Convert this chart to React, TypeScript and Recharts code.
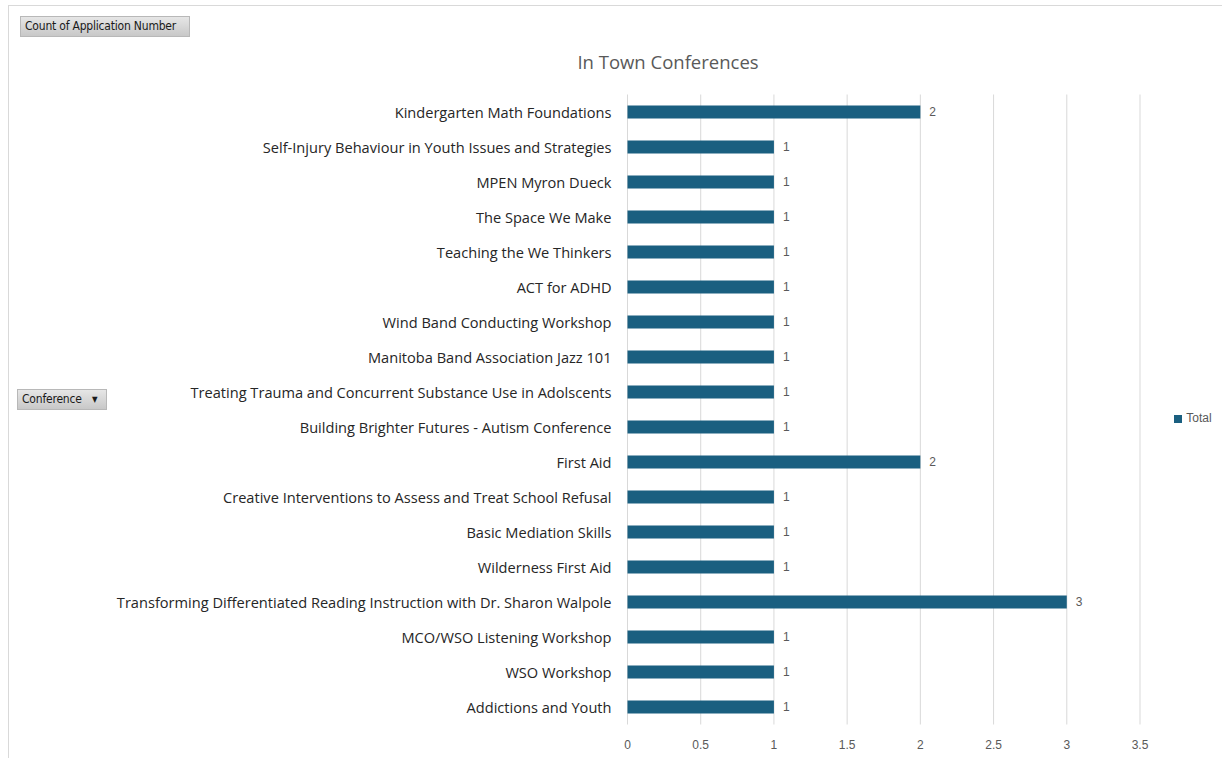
import React from "react";
import { BarChart, Bar, XAxis, YAxis, CartesianGrid, LabelList, Legend } from "recharts";

const conferences = [
  "Kindergarten Math Foundations",
  "Self-Injury Behaviour in Youth Issues and Strategies",
  "MPEN Myron Dueck",
  "The Space We Make",
  "Teaching the We Thinkers",
  "ACT for ADHD",
  "Wind Band Conducting Workshop",
  "Manitoba Band Association Jazz 101",
  "Treating Trauma and Concurrent Substance Use in Adolscents",
  "Building Brighter Futures - Autism Conference",
  "First Aid",
  "Creative Interventions to Assess and Treat School Refusal",
  "Basic Mediation Skills",
  "Wilderness First Aid",
  "Transforming Differentiated Reading Instruction with Dr. Sharon Walpole",
  "MCO/WSO Listening Workshop",
  "WSO Workshop",
  "Addictions and Youth",
];

const totals = [2, 1, 1, 1, 1, 1, 1, 1, 1, 1, 2, 1, 1, 1, 3, 1, 1, 1];

const xTicks = [0, 0.5, 1, 1.5, 2, 2.5, 3, 3.5];

const data = conferences.map((name, i) => ({ name, Total: totals[i] }));

const FONT = "'Liberation Sans', Arial, sans-serif";
const LABEL_FONT = "'Open Sans', 'Liberation Sans', sans-serif";

const buttonStyle: React.CSSProperties = {
  position: "absolute",
  background: "linear-gradient(#e6e6e6, #c8c8c8)",
  border: "1px solid #b8b8b8",
  fontFamily: "'DejaVu Sans Condensed', 'Liberation Sans Narrow', sans-serif",
  fontSize: 12,
  letterSpacing: -0.2,
  color: "#1a1a1a",
  boxSizing: "border-box",
  lineHeight: "19px",
  paddingLeft: 4,
  whiteSpace: "nowrap",
};

export default function App() {
  return (
    <div style={{ position: "absolute", left: 0, top: 0, width: 1223, height: 758, background: "#fff", overflow: "hidden" }}>
      <div
        style={{
          position: "absolute",
          left: 8,
          top: 5,
          width: 1214,
          height: 760,
          borderTop: "1px solid #d9d9d9",
          borderLeft: "1px solid #d9d9d9",
          boxSizing: "border-box",
        }}
      />
      <BarChart
        width={1223}
        height={758}
        data={data}
        layout="vertical"
        margin={{ top: 94.5, right: 83, bottom: 13.5, left: 0 }}
        barSize={13}
        style={{ position: "absolute", left: 0, top: 0 }}
      >
        <CartesianGrid horizontal={false} vertical stroke="#d9d9d9" strokeWidth={1} />
        <XAxis
          type="number"
          domain={[0, 3.5]}
          ticks={xTicks}
          axisLine={false}
          tickLine={false}
          tickSize={0}
          tickMargin={16}
          height={20}
          tick={{ fill: "#595959", fontSize: 12, fontFamily: FONT }}
          interval={0}
        />
        <YAxis
          type="category"
          dataKey="name"
          width={627.5}
          axisLine={false}
          tickLine={false}
          tickSize={0}
          tickMargin={16}
          interval={0}
          tick={{ fill: "#262626", fontSize: 14.6, fontFamily: LABEL_FONT, dy: 1 }}
        />
        <Legend
          layout="horizontal"
          verticalAlign="middle"
          align="center"
          iconType="square"
          iconSize={8}
          wrapperStyle={{ left: 1168, top: 411, width: 60, height: 18, fontFamily: FONT, fontSize: 12 }}
          formatter={(v: string) => <span style={{ color: "#595959", fontSize: 12 }}>{v}</span>}
        />
        <Bar dataKey="Total" fill="#1a5f80" isAnimationActive={false}>
          <LabelList dataKey="Total" position="right" offset={9} fill="#595959" fontSize={12} fontFamily={FONT} />
        </Bar>
      </BarChart>
      <div
        style={{
          position: "absolute",
          left: 0,
          width: 1336,
          top: 49,
          textAlign: "center",
          fontFamily: LABEL_FONT,
          fontSize: 18.5,
          color: "#595959",
          lineHeight: "26px",
        }}
      >
        In Town Conferences
      </div>
      <div style={{ ...buttonStyle, left: 20, top: 16, width: 170, height: 21 }}>Count of Application Number</div>
      <div style={{ ...buttonStyle, left: 17, top: 389, width: 90, height: 21 }}>
        Conference
        <span style={{ position: "absolute", left: 74, top: 0, fontSize: 8 }}>▼</span>
      </div>
    </div>
  );
}
